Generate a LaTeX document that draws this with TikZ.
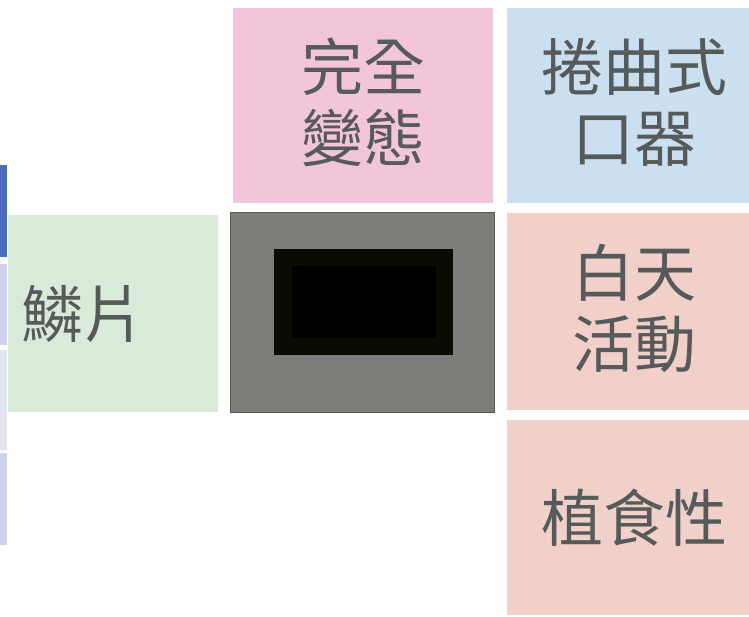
\documentclass[tikz,border=0pt]{standalone}
\usepackage{fontspec}
\usepackage{xcolor}
\usepackage{tikz}
\newfontfamily\cjk{Noto Sans CJK TC}
\definecolor{pinkbg}{HTML}{F2C5DA}
\definecolor{bluebg}{HTML}{CADFEF}
\definecolor{salmonbg}{HTML}{F1D0C9}
\definecolor{greenbg}{HTML}{D9EBD8}
\definecolor{graybox}{HTML}{7B7D79}
\definecolor{framedark}{HTML}{0B0B02}
\definecolor{txtgray}{HTML}{565A5A}
\definecolor{bardark}{HTML}{4A6DC0}
\definecolor{barlav}{HTML}{CDD1EC}
\definecolor{barpale}{HTML}{E3E5F3}

\begin{document}
\begin{tikzpicture}[x=1pt,y=-1pt,
                    cell/.style n args={3}{fill=#1,
                    minimum width=#2pt,
                    minimum height=#3pt,
                    inner sep=0pt,
                    anchor=north west,
                    rectangle},
                    lbl/.style={text=txtgray,
                    font=\cjk\fontsize{62}{71}\selectfont,
                    align=center}]
    \useasboundingbox (0,0) rectangle (749,617);

    % side bars
    \node[cell={bardark}{7}{92}]  (bar1) at (0,165) {};
    \node[cell={barlav}{7}{81}]   (bar2) at (0,264) {};
    \node[cell={barpale}{7}{100}] (bar3) at (0,350) {};
    \node[cell={barlav}{7}{92}]   (bar4) at (0,453) {};

    % coloured cells
    \node[cell={pinkbg}{260}{195}]   (bian)  at (233,8)   {};
    \node[cell={bluebg}{242}{195}]   (kouqi) at (507,8)   {};
    \node[cell={greenbg}{210}{197}]  (lin)   at (8,215)   {};
    \node[cell={salmonbg}{242}{197}] (day)   at (507,213) {};
    \node[cell={salmonbg}{242}{195}] (zhi)   at (507,420) {};

    % hidden picture
    \node[cell={graybox}{264}{200},draw=graybox!70!black] (pic) at (230,212) {};
    \node[cell={framedark}{179}{106}] (frame) at (274,249) {};
    \node[cell={black}{144}{72}] (hole) at (292,266) {};

    % labels
    \node[lbl] (tbian)  at ([yshift=3pt]bian.center)  {完全\\變態};
    \node[lbl] (tkouqi) at ([xshift=6pt,yshift=3pt]kouqi.center) {捲曲式\\口器};
    \node[lbl,anchor=west] (tlin) at ([xshift=10pt]lin.west) {鱗片};
    \node[lbl] (tday)   at ([xshift=6pt,yshift=3pt]day.center) {白天\\活動};
    \node[lbl] (tzhi)   at ([xshift=6pt]zhi.center)   {植食性};
\end{tikzpicture}
\end{document}
